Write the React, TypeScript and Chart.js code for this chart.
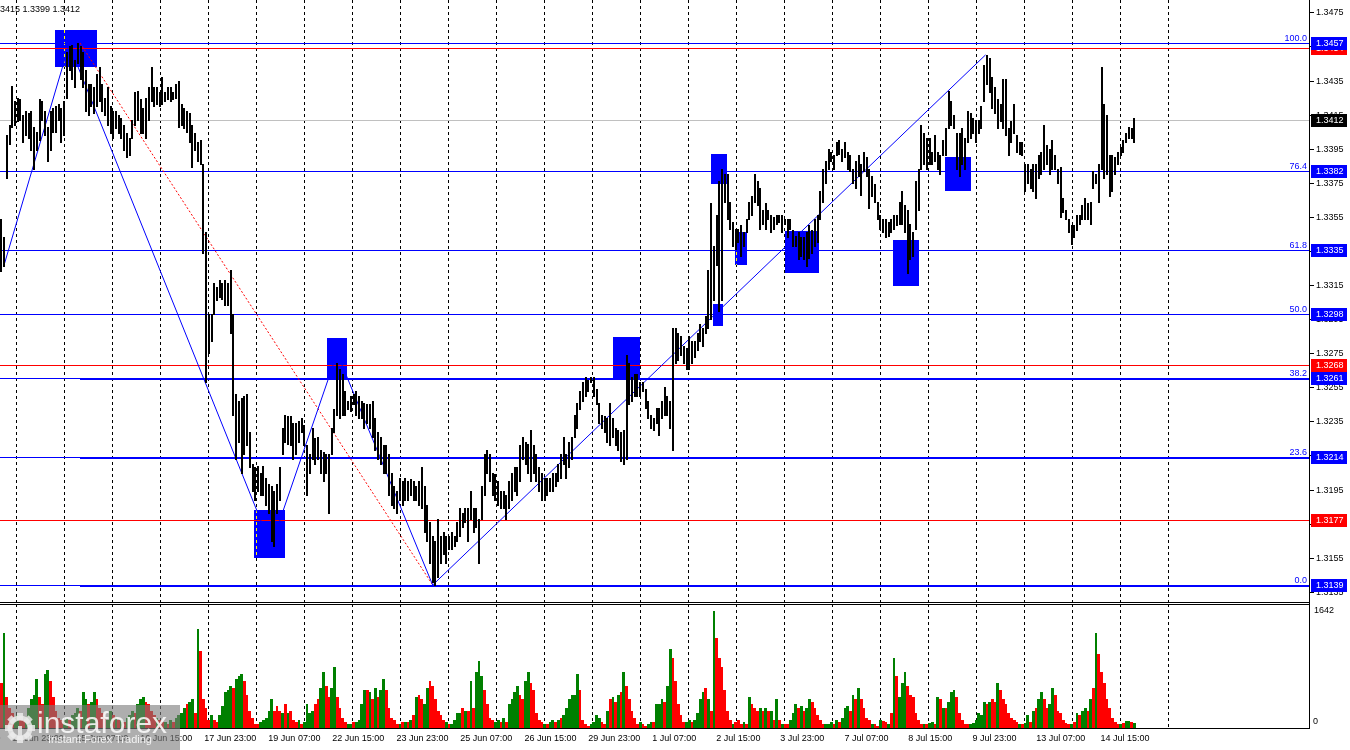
import React, { useEffect, useRef } from "react";
import { Chart, registerables } from "chart.js";

Chart.register(...registerables);

// ---------------- DATA (prices in units of 0.0001, i.e. 13412 = 1.3412) ----------------
const highPips = [
  13354,13343,13403,13409,13432,13423,13425,13424,13415,13417,13416,13417,13408,13405,13424,13423,13417,13408,13417,13419,
  13420,13421,13419,13423,13452,13455,13456,13447,13457,13455,13452,13441,13433,13433,13431,13439,13443,13433,13425,13431,
  13420,13417,13417,13415,13413,13409,13404,13401,13412,13428,13429,13424,13419,13425,13431,13443,13431,13431,13428,13437,
  13428,13431,13431,13428,13433,13435,13421,13419,13417,13416,13409,13404,13399,13400,13386,13346,13298,13298,13316,13314,
  13318,13316,13318,13316,13324,13298,13251,13247,13249,13250,13251,13229,13210,13208,13209,13205,13209,13202,13198,13197,
  13194,13198,13208,13231,13239,13238,13238,13234,13234,13235,13237,13233,13221,13216,13231,13225,13226,13218,13217,13216,
  13216,13231,13242,13269,13266,13263,13253,13247,13250,13251,13253,13250,13247,13246,13245,13245,13247,13237,13229,13226,
  13221,13221,13216,13205,13197,13194,13202,13200,13202,13200,13201,13200,13197,13200,13208,13197,13186,13176,13168,13165,
  13178,13168,13170,13168,13168,13170,13168,13176,13184,13181,13184,13184,13194,13184,13184,13178,13197,13216,13218,13216,
  13205,13204,13200,13194,13194,13192,13200,13205,13208,13208,13221,13226,13223,13222,13230,13221,13216,13208,13205,13202,
  13202,13202,13205,13205,13210,13216,13226,13216,13223,13226,
  13239,13246,13253,13258,13261,13259,13261,13261,13254,13246,13239,13238,13237,13246,13237,13231,13230,13229,13230,13274,
  13269,13261,13263,13263,13258,13258,13254,13247,13239,13237,13243,13243,13247,13255,13250,13247,13290,13290,13287,13285,
  13279,13278,13285,13282,13282,13287,13292,13290,13297,13324,13363,13338,13356,13376,13383,13380,13380,13364,13352,13348,
  13348,13350,13346,13354,13364,13367,13380,13376,13372,13359,13363,13359,13356,13355,13356,13356,13356,13354,13354,13354,
  13347,13344,13346,13343,13343,13346,13350,13347,13354,13356,13370,13383,13388,13395,13393,13391,13399,13400,13395,13399,
  13393,13391,13383,13388,13391,13386,13393,13390,13383,13379,13374,13364,13356,13354,13354,13352,13354,13356,13356,13364,
  13370,13362,13359,13351,13346,13376,13383,13409,13404,13401,13401,13393,13403,13393,13391,13400,13407,13429,13423,13415,
  13404,13404,13407,13401,13417,13416,13413,13412,13412,13420,13444,13450,13448,13437,13431,13424,13421,13436,13436,13407,
  13411,13421,13403,13399,13399,13386,13386,13383,13386,13386,13391,13393,13409,13397,13395,13400,13391,13383,13384,13366,
  13359,13354,13350,13350,13356,13356,13362,13366,13363,13364,13382,13380,13386,13443,13421,13415,13391,13391,13390,13393,
  13396,13400,13404,13408,13407,13413,
];
const lowPips = [
  13323,13326,13378,13398,13408,13409,13411,13412,13399,13403,13401,13394,13383,13394,13400,13412,13403,13388,13394,13405,
  13405,13412,13399,13403,13425,13441,13436,13431,13445,13436,13431,13417,13415,13420,13416,13420,13423,13417,13415,13409,
  13404,13401,13407,13404,13401,13394,13390,13391,13401,13409,13412,13404,13404,13401,13412,13423,13420,13421,13420,13421,
  13423,13424,13423,13424,13425,13408,13409,13407,13405,13399,13384,13394,13388,13386,13334,13258,13275,13282,13298,13306,
  13308,13307,13303,13303,13287,13239,13213,13223,13205,13216,13221,13208,13194,13189,13194,13192,13192,13186,13181,13165,
  13162,13181,13189,13216,13223,13222,13221,13213,13216,13223,13229,13221,13192,13205,13213,13210,13213,13205,13200,13205,
  13181,13216,13229,13239,13237,13239,13239,13242,13241,13245,13239,13237,13237,13231,13234,13231,13226,13218,13213,13210,
  13205,13205,13192,13186,13184,13181,13189,13186,13189,13189,13192,13189,13189,13186,13184,13170,13165,13152,13141,13139,
  13144,13152,13157,13152,13160,13160,13162,13165,13168,13173,13176,13165,13178,13170,13173,13152,13178,13192,13205,13200,
  13192,13189,13186,13184,13184,13178,13184,13189,13194,13192,13200,13213,13210,13205,13200,13205,13200,13194,13189,13189,
  13192,13194,13194,13197,13200,13202,13210,13202,13208,13213,
  13226,13231,13242,13247,13250,13253,13258,13250,13245,13234,13231,13229,13223,13221,13226,13221,13218,13212,13210,13213,
  13245,13247,13250,13250,13250,13253,13243,13237,13231,13230,13234,13227,13237,13239,13239,13231,13218,13269,13271,13274,
  13269,13266,13266,13269,13273,13277,13282,13279,13287,13290,13295,13306,13327,13300,13306,13364,13354,13348,13338,13336,
  13340,13332,13338,13346,13354,13356,13364,13362,13348,13351,13348,13354,13346,13348,13351,13352,13346,13351,13343,13348,
  13338,13338,13330,13332,13330,13326,13331,13334,13338,13340,13354,13364,13375,13383,13388,13383,13391,13392,13388,13390,
  13383,13382,13375,13372,13379,13368,13382,13379,13360,13367,13364,13354,13348,13346,13343,13344,13346,13348,13350,13351,
  13351,13346,13322,13330,13332,13348,13359,13383,13386,13383,13386,13386,13388,13383,13380,13391,13391,13407,13409,13407,
  13383,13379,13386,13383,13399,13401,13404,13399,13404,13407,13423,13433,13428,13419,13416,13407,13411,13407,13403,13391,
  13399,13404,13393,13392,13391,13370,13375,13372,13370,13366,13378,13380,13383,13386,13380,13383,13383,13375,13355,13358,
  13354,13346,13339,13343,13347,13351,13354,13354,13354,13351,13372,13375,13364,13383,13378,13380,13367,13370,13380,13386,
  13391,13393,13399,13401,13401,13399,
];
const volumes = [
  627,1331,435,275,211,147,179,147,115,147,275,403,467,691,435,339,755,819,659,435,
  243,147,115,115,147,115,179,211,275,243,499,403,339,371,499,403,275,211,147,115,
  243,179,147,115,115,83,147,179,243,211,339,403,435,371,339,243,179,147,115,83,
  83,51,115,83,147,179,211,275,339,371,403,211,1395,1075,403,275,115,179,115,83,
  179,307,499,531,595,563,691,723,755,659,467,243,147,51,51,83,115,147,243,403,
  243,307,243,211,339,211,243,115,83,115,51,83,339,211,243,339,403,563,787,595,
  435,563,851,435,275,147,83,51,51,83,83,115,339,531,531,499,403,563,435,531,
  691,531,275,147,115,51,51,83,83,83,115,179,435,467,403,339,563,659,595,403,
  243,179,115,83,51,51,115,211,211,275,243,243,659,275,787,947,723,531,339,147,
  115,83,115,83,147,83,339,403,499,595,467,403,659,787,627,531,211,115,83,51,
  51,83,115,83,115,147,179,275,403,467,
  467,755,531,115,51,32,51,83,179,147,83,51,243,403,435,371,467,499,787,595,
  403,243,147,51,83,51,32,51,83,83,339,339,403,371,595,1107,979,659,339,179,
  83,83,115,83,115,211,403,499,563,403,243,1642,1267,979,851,531,243,115,51,83,
  115,51,83,51,435,339,275,243,275,243,275,243,243,115,403,115,51,51,51,115,
  211,339,275,307,243,275,403,371,275,179,115,51,51,51,83,51,115,83,147,275,
  307,243,467,403,563,403,275,147,115,51,51,32,115,96,83,51,211,979,723,435,
  627,787,595,467,435,211,115,51,51,51,64,83,51,435,403,275,275,371,499,531,
  435,211,115,51,51,51,64,115,211,179,371,339,371,403,371,627,531,403,339,211,
  147,115,83,51,51,64,179,83,243,275,403,499,403,275,339,563,467,243,211,115,
  64,51,51,83,211,179,243,275,243,403,563,1331,1043,787,627,403,275,147,83,51,
  51,64,96,96,83,70,
];
const volumeUp = [
  0,1,0,0,0,1,1,0,0,1,1,1,1,1,0,0,1,1,0,0,
  0,0,0,1,1,0,1,1,1,0,1,1,0,1,1,0,0,0,0,1,
  1,0,1,0,1,0,1,1,1,0,1,1,1,0,0,0,0,1,0,0,
  1,0,1,0,1,1,1,1,0,1,1,0,1,0,0,0,0,1,0,0,
  1,1,1,1,1,0,1,1,1,0,0,0,0,0,0,1,1,1,1,1,
  0,0,0,1,0,1,0,0,0,1,0,1,1,1,1,0,0,1,1,0,
  0,1,1,0,0,0,0,1,1,0,1,1,1,1,0,1,0,1,0,1,
  1,0,0,0,0,0,1,0,1,0,1,0,1,0,0,1,1,0,0,0,
  0,0,0,1,0,1,1,1,1,0,1,0,1,0,1,1,1,0,0,0,
  0,1,1,0,1,0,1,1,1,1,0,0,1,1,0,0,0,0,0,1,
  0,1,1,0,1,0,1,1,1,1,
  1,1,0,0,0,0,1,1,1,1,0,0,1,0,1,0,1,0,1,0,
  0,0,0,0,1,0,0,1,1,0,1,1,1,0,1,1,0,0,0,0,
  0,1,1,0,1,1,1,1,0,1,0,1,0,0,0,0,0,0,1,0,
  0,0,1,0,1,0,0,0,1,0,1,0,1,0,1,0,1,0,0,1,
  1,1,0,1,0,1,1,0,0,0,0,0,1,1,1,0,1,0,1,1,
  1,0,1,0,1,0,0,0,0,1,0,0,1,0,0,1,0,1,0,1,
  1,1,0,0,0,0,0,0,1,0,1,1,0,1,0,1,0,1,1,1,
  0,0,0,0,0,1,1,1,1,1,1,0,1,0,0,1,0,0,0,0,
  0,0,0,1,0,1,1,0,1,0,1,1,0,0,1,1,0,0,0,0,
  0,0,1,0,1,0,1,1,0,1,0,1,0,0,0,0,0,0,0,0,
  1,0,1,1,0,1,
];

const priceTicks = [1.3135,1.3155,1.3175,1.3195,1.3215,1.3235,1.3255,1.3275,1.3295,1.3315,1.3335,1.3355,1.3375,1.3395,1.3415,1.3435,1.3455,1.3475];
const fibPrices = [1.3457, 1.33819, 1.33355, 1.3298, 1.32605, 1.3214, 1.3139];
const fibNames = ["100.0", "76.4", "61.8", "50.0", "38.2", "23.6", "0.0"];
const fibTags = ["1.3457", "1.3382", "1.3335", "1.3298", "1.3261", "1.3214", "1.3139"];
const fibThick = [1.32605, 1.3214, 1.3139];
const fibAnchorX = [29.3, 158.5];
const fibAnchorY = [1.3457, 1.3139];
const redPrices = [1.3454, 1.3268, 1.3177];
const redTags = ["1.3454", "1.3268", "1.3177"];
const bidPrice = 1.3412;
const headerValues = ["1.3415", "1.3399", "1.3412"];
const zigzagX = [1.3, 25.3, 99.3, 123.5, 158.5, 361.0];
const zigzagY = [1.33257, 1.3456, 1.3162, 1.3275, 1.3139, 1.345];
const boxX1 = [20.1, 92.9, 119.8, 224.6, 260.5, 261.2, 269.3, 287.6, 327.2, 346.2];
const boxX2 = [35.5, 104.3, 127.1, 234.5, 266.2, 264.8, 273.6, 300.1, 336.6, 355.7];
const boxHi = [1.34646, 1.3183, 1.32839, 1.32845, 1.33919, 1.33039, 1.33461, 1.33467, 1.33414, 1.339];
const boxLo = [1.34432, 1.31549, 1.32605, 1.32601, 1.3374, 1.3291, 1.33268, 1.3322, 1.33146, 1.33701];
const timeLabels = ["10 Jun 15:00","11 Jun 23:00","15 Jun 07:00","16 Jun 15:00","17 Jun 23:00","19 Jun 07:00","22 Jun 15:00","23 Jun 23:00","25 Jun 07:00","26 Jun 15:00","29 Jun 23:00","1 Jul 07:00","2 Jul 15:00","3 Jul 23:00","7 Jul 07:00","8 Jul 15:00","9 Jul 23:00","13 Jul 07:00","14 Jul 15:00"];
const timeLabelPos = [-18.9, 4.5, 27.9, 51.4, 74.8, 98.3, 121.7, 145.2, 168.6, 192.1, 215.5, 238.9, 262.4, 285.8, 309.3, 332.7, 356.2, 379.6, 403.1];

// ---------------- LAYOUT / STYLE ----------------
const W = 1350;
const AXIS_X = 1309;
const PRICE_MIN = 1.312904;
const PRICE_MAX = 1.348223;
const X_MAX = 479.49;
const VOL_MAX = 1726;
const FONT = '9px "Liberation Sans", Arial, sans-serif';
const BLUE = "#0000ff";
const RED = "#ff0000";
const GREEN = "#008000";
const BAR_PX = 2;

function gridXs(): number[] {
  const xs: number[] = [];
  for (let k = 0; k < 25; k++) xs.push(Math.round(15.6 + 48 * k) + 0.5);
  return xs;
}

function drawGrid(ctx: CanvasRenderingContext2D, top: number, bottom: number, boxes: any[]) {
  ctx.save();
  ctx.lineWidth = 1;
  ctx.setLineDash([3, 3]);
  gridXs().forEach((gx) => {
    ctx.strokeStyle = "#000";
    ctx.beginPath();
    ctx.moveTo(gx, top);
    ctx.lineTo(gx, bottom);
    ctx.stroke();
    boxes.forEach((b) => {
      if (gx > b.x1 && gx < b.x2 + 1) {
        ctx.save();
        ctx.beginPath();
        ctx.rect(b.x1, b.y1, b.x2 - b.x1, b.y2 - b.y1);
        ctx.clip();
        ctx.strokeStyle = "#ffff00";
        ctx.beginPath();
        ctx.moveTo(gx, top);
        ctx.lineTo(gx, bottom);
        ctx.stroke();
        ctx.restore();
      }
    });
  });
  ctx.restore();
}

const pricePanePlugin = {
  id: "pricePane",
  beforeDatasetsDraw(chart: any) {
    const { ctx, chartArea: a, scales } = chart;
    const x = scales.x;
    const y = scales.y;
    ctx.save();
    const boxes = boxX1.map((_, i) => {
      const x1 = Math.round(x.getPixelForValue(boxX1[i]));
      const x2 = Math.round(x.getPixelForValue(boxX2[i]));
      const y1 = Math.round(y.getPixelForValue(boxHi[i]));
      const y2 = Math.round(y.getPixelForValue(boxLo[i]));
      return { x1, x2, y1, y2 };
    });
    ctx.fillStyle = BLUE;
    boxes.forEach((b) => ctx.fillRect(b.x1, b.y1, b.x2 - b.x1, b.y2 - b.y1));
    drawGrid(ctx, a.top, a.bottom, boxes);
    const left = a.left;
    const width = a.right - a.left;
    ctx.fillStyle = "#c0c0c0";
    ctx.fillRect(left, Math.round(y.getPixelForValue(bidPrice)), width, 1);
    ctx.fillStyle = RED;
    redPrices.forEach((p) => ctx.fillRect(left, Math.round(y.getPixelForValue(p)), width, 1));
    ctx.fillStyle = BLUE;
    fibPrices.forEach((p) => ctx.fillRect(left, Math.round(y.getPixelForValue(p)), width, 1));
    const tx = Math.round(x.getPixelForValue(fibAnchorX[0]));
    fibThick.forEach((p) => ctx.fillRect(tx, Math.round(y.getPixelForValue(p)), a.right - tx, 2));
    ctx.restore();
  },
  beforeDatasetDraw(chart: any, args: any) {
    if (args.meta.type !== "bar") return;
    const { ctx } = chart;
    ctx.save();
    ctx.fillStyle = "#000";
    args.meta.data.forEach((el: any) => {
      const p = el.getProps(["x", "y", "base"], true);
      const x0 = Math.round(p.x - BAR_PX / 2);
      const t = Math.round(Math.min(p.y, p.base));
      const b = Math.round(Math.max(p.y, p.base));
      ctx.fillRect(x0, t, BAR_PX, Math.max(1, b - t + 1));
    });
    ctx.restore();
    return false;
  },
  afterDraw(chart: any) {
    const { ctx, scales } = chart;
    const y = scales.y;
    ctx.save();
    ctx.fillStyle = "#000";
    ctx.fillRect(AXIS_X, 0, 1, 603);
    ctx.fillRect(0, 602, AXIS_X, 1);
    ctx.font = FONT;
    ctx.textAlign = "left";
    ctx.textBaseline = "middle";
    priceTicks.forEach((t) => {
      const py = Math.round(y.getPixelForValue(t));
      ctx.fillRect(AXIS_X + 1, py, 4, 1);
      ctx.fillText(t.toFixed(4), 1316, py + 0.5);
    });
    const tag = (p: number, text: string, color: string) => {
      const py = Math.round(y.getPixelForValue(p));
      ctx.fillStyle = color;
      ctx.fillRect(1311, py - 6, 36, 13);
      ctx.fillStyle = "#fff";
      ctx.fillText(text, 1316, py + 0.5);
    };
    redPrices.forEach((p, i) => tag(p, redTags[i], RED));
    fibPrices.forEach((p, i) => tag(p, fibTags[i], BLUE));
    tag(bidPrice, bidPrice.toFixed(4), "#000");
    ctx.fillStyle = BLUE;
    ctx.textAlign = "right";
    ctx.textBaseline = "alphabetic";
    fibPrices.forEach((p, i) => {
      const py = Math.round(y.getPixelForValue(p));
      ctx.fillText(fibNames[i], 1307, py - 2);
    });
    ctx.fillStyle = "#000";
    ctx.textBaseline = "middle";
    ctx.fillText(headerValues.join(" "), 80, 10);
    ctx.restore();
  },
};

const volumePanePlugin = {
  id: "volumePane",
  beforeDatasetsDraw(chart: any) {
    const { ctx, chartArea: a } = chart;
    drawGrid(ctx, a.top - 1, a.bottom, []);
  },
  beforeDatasetDraw(chart: any, args: any) {
    const { ctx, scales } = chart;
    const x = scales.x;
    const step = x.getPixelForValue(1) - x.getPixelForValue(0);
    const colors = args.meta._dataset.backgroundColor;
    ctx.save();
    args.meta.data.forEach((el: any, i: number) => {
      const p = el.getProps(["x", "y", "base"], true);
      const l = Math.round(p.x - step / 2);
      const r = Math.round(p.x + step / 2);
      const t = Math.round(p.y);
      const b = Math.round(p.base);
      ctx.fillStyle = colors[i];
      ctx.fillRect(l, t, Math.max(1, r - l), Math.max(0, b - t));
    });
    ctx.restore();
    return false;
  },
  afterDraw(chart: any) {
    const { ctx, scales } = chart;
    const x = scales.x;
    ctx.save();
    ctx.fillStyle = "#000";
    ctx.fillRect(AXIS_X, 0, 1, 126);
    ctx.fillRect(0, 1, AXIS_X, 1);
    ctx.fillRect(0, 125, AXIS_X + 1, 1);
    ctx.font = FONT;
    ctx.textAlign = "left";
    ctx.textBaseline = "middle";
    ctx.fillText(String(Math.max(...volumes)), 1314, 7.5);
    ctx.fillText("0", 1313, 119);
    timeLabels.forEach((t, i) => {
      ctx.fillText(t, x.getPixelForValue(timeLabelPos[i]), 135.5);
    });
    ctx.restore();
  },
};

export default function App() {
  const priceRef = useRef<HTMLCanvasElement>(null);
  const volRef = useRef<HTMLCanvasElement>(null);

  useEffect(() => {
    const xScale = { type: "linear", min: 0, max: X_MAX, offset: false, display: false, grid: { offset: false } };
    const priceChart = new Chart(priceRef.current as HTMLCanvasElement, {
      type: "bar",
      data: {
        datasets: [
          {
            type: "bar",
            label: "price",
            data: highPips.map((h, i) => ({ x: i + 0.5, y: [lowPips[i] / 10000, h / 10000] })),
            backgroundColor: "#000",
            barThickness: BAR_PX,
            grouped: false,
            order: 0,
          } as any,
          {
            type: "line",
            label: "zigzag",
            data: zigzagX.map((v, i) => ({ x: v, y: zigzagY[i] })),
            borderColor: BLUE,
            borderWidth: 1,
            pointRadius: 0,
            tension: 0,
            fill: false,
            order: 1,
          } as any,
          {
            type: "line",
            label: "fib",
            data: fibAnchorX.map((v, i) => ({ x: v, y: fibAnchorY[i] })),
            borderColor: RED,
            borderWidth: 1,
            borderDash: [2, 2],
            pointRadius: 0,
            tension: 0,
            fill: false,
            order: 1,
          } as any,
        ],
      },
      options: {
        responsive: false,
        animation: false,
        devicePixelRatio: 1,
        events: [],
        layout: { padding: { left: 0, right: W - AXIS_X, top: 0, bottom: 1 } },
        plugins: { legend: { display: false }, tooltip: { enabled: false } },
        scales: {
          x: { ...xScale } as any,
          y: { type: "linear", min: PRICE_MIN, max: PRICE_MAX, display: false },
        },
      },
      plugins: [pricePanePlugin as any],
    });

    const volChart = new Chart(volRef.current as HTMLCanvasElement, {
      type: "bar",
      data: {
        datasets: [
          {
            label: "volume",
            data: volumes.map((v, i) => ({ x: i + 0.5, y: v })),
            backgroundColor: volumeUp.map((u) => (u ? GREEN : RED)),
            barThickness: 2,
            grouped: false,
          } as any,
        ],
      },
      options: {
        responsive: false,
        animation: false,
        devicePixelRatio: 1,
        events: [],
        layout: { padding: { left: 0, right: W - AXIS_X, top: 2, bottom: 22 } },
        plugins: { legend: { display: false }, tooltip: { enabled: false } },
        scales: {
          x: { ...xScale } as any,
          y: { type: "linear", min: 0, max: VOL_MAX, display: false },
        },
      },
      plugins: [volumePanePlugin as any],
    });

    return () => {
      priceChart.destroy();
      volChart.destroy();
    };
  }, []);

  const teeth = [0, 45, 90, 135, 180, 225, 270, 315];
  return (
    <div style={{ position: "fixed", left: 0, top: 0, width: 1350, height: 750, background: "#fff", overflow: "hidden" }}>
      <canvas ref={priceRef} width={1350} height={603} style={{ position: "absolute", left: 0, top: 0 }} />
      <canvas ref={volRef} width={1350} height={147} style={{ position: "absolute", left: 0, top: 603 }} />
      <div style={{ position: "absolute", left: 0, top: 705, width: 180, height: 45, background: "rgba(125,125,125,0.62)", overflow: "hidden" }}>
        <svg width={40} height={45} style={{ position: "absolute", left: 0, top: 0 }}>
          <g transform="translate(20,23)" fill="rgba(235,235,235,0.85)">
            {teeth.map((a) => (
              <rect key={a} x={-3} y={-15} width={6} height={7} transform={`rotate(${a})`} />
            ))}
            <circle r={10} fill="none" stroke="rgba(235,235,235,0.85)" strokeWidth={5} />
            <rect x={-2} y={-2} width={4} height={14} />
          </g>
        </svg>
        <div style={{ position: "absolute", left: 37, top: 3, font: '30px "Liberation Sans", Arial, sans-serif', lineHeight: "30px", color: "rgba(255,255,255,0.85)", whiteSpace: "nowrap" }}>
          instaforex
        </div>
        <div style={{ position: "absolute", left: 48, top: 29, font: '11px "Liberation Sans", Arial, sans-serif', lineHeight: "11px", color: "rgba(255,255,255,0.85)", whiteSpace: "nowrap" }}>
          Instant Forex Trading
        </div>
      </div>
    </div>
  );
}
